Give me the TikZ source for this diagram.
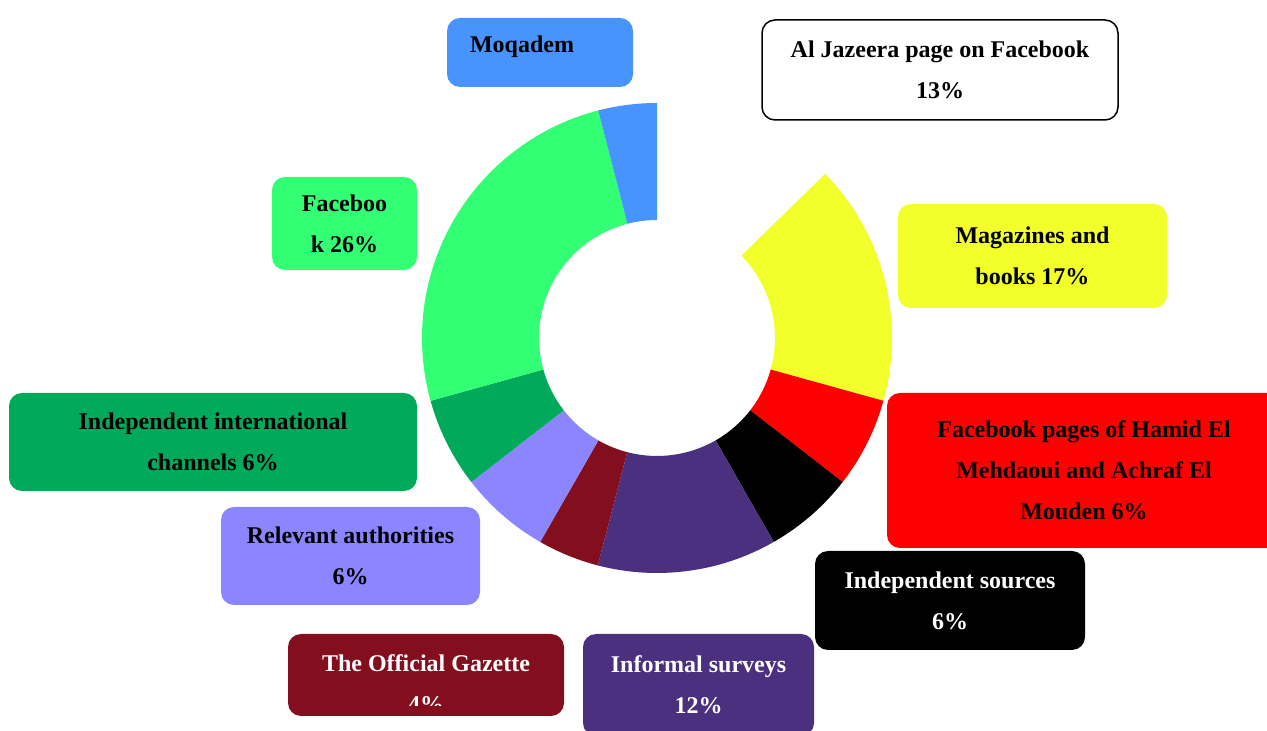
\documentclass[tikz,border=0pt]{standalone}
\usepackage{fontspec}
\setmainfont{Liberation Serif}
\usepackage{xcolor}
\definecolor{moqblue}{HTML}{4894FF}
\definecolor{fbgreen}{HTML}{33FF75}
\definecolor{intlgreen}{HTML}{00AA5A}
\definecolor{authlav}{HTML}{8B86FF}
\definecolor{gazred}{HTML}{820E1E}
\definecolor{survpurple}{HTML}{4A307F}
\definecolor{magyellow}{HTML}{F2FF2A}

\begin{document}
\begin{tikzpicture}[%
  x=1pt,y=1pt,
  tag/.style={rounded corners=13pt,inner sep=0pt,align=center,
	font=\fontsize{24}{41}\selectfont\bfseries},
  darktag/.style={tag,text=white}]
\clip (0,0) rectangle (1267,731);
\fill[white] (0,0) rectangle (1267,731);
\begin{scope}[shift={(657,393)}]
\foreach \a/\b/\c in {44.3/-15.5/magyellow,-15.5/-37.8/red,-37.8/-60.2/black,
	-60.2/-104.6/survpurple,-104.6/-119.8/gazred,-119.8/-142.2/authlav,
	-142.2/-164.5/intlgreen,-164.5/-255.5/fbgreen,-255.5/-270/moqblue}
	\fill[\c] (\a:235) arc[start angle=\a,end angle=\b,radius=235]
		-- (\b:118) arc[start angle=\b,end angle=\a,radius=118] -- cycle;
\end{scope}
\node[tag,fill=moqblue,minimum width=186pt,minimum height=69pt] (moq) at (540,678.5) {};
\node[tag] (moqtxt) at (522,684) {Moqadem};
\node[tag,draw=black,line width=1.5pt,fill=white,minimum width=356pt,minimum height=100pt] (jaz) at (940,661)
	{Al Jazeera page on Facebook\\13\%};
\node[tag,fill=fbgreen,minimum width=145pt,minimum height=93pt] (fbk) at (344.5,507.5) {Faceboo\\k 26\%};
\node[tag,fill=magyellow,minimum width=269pt,minimum height=104pt] (mag) at (1032.5,475) {Magazines and\\books 17\%};
\node[tag,fill=red,minimum width=394pt,minimum height=155pt] (hamid) at (1084,260.5)
	{Facebook pages of Hamid El\\Mehdaoui and Achraf El\\Mouden 6\%};
\node[tag,fill=intlgreen,minimum width=408pt,minimum height=98pt] (intl) at (213,289)
	{Independent international\\channels 6\%};
\node[tag,fill=authlav,minimum width=259pt,minimum height=98pt] (auth) at (350.5,175) {Relevant authorities\\6\%};
\node[darktag,fill=black,minimum width=270pt,minimum height=99pt] (indep) at (950,130.5) {Independent sources\\6\%};
\node[tag,fill=gazred,minimum width=276pt,minimum height=82pt] (gaz) at (426,56) {};
\begin{scope}
\clip (288,25.5) rectangle (564,97);
\node[darktag] (gaztxt) at (426,47) {The Official Gazette\\4\%};
\end{scope}
\node[darktag,fill=survpurple,minimum width=231pt,minimum height=102pt] (surv) at (698.5,46) {Informal surveys\\12\%};
\end{tikzpicture}
\end{document}
